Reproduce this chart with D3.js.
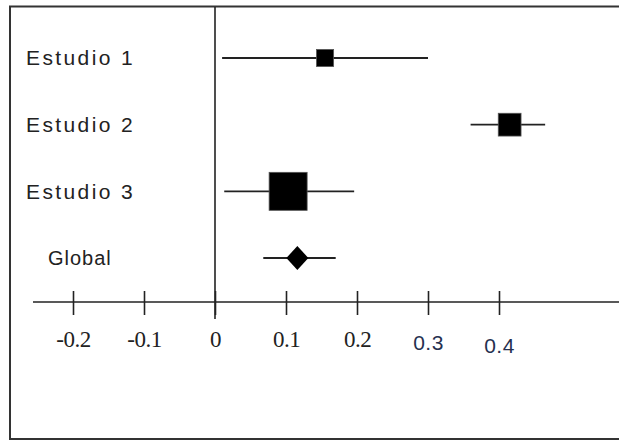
<!DOCTYPE html>
<html>
<head>
<meta charset="utf-8">
<script src="https://cdn.jsdelivr.net/npm/d3@7"></script>
<style>
  body { margin: 0; background: #fff; }
</style>
</head>
<body>
<div id="chart"></div>
<script>
// forest plot data
var studies   = ["Estudio 1", "Estudio 2", "Estudio 3", "Global"];
var estimates = [0.155, 0.415, 0.103, 0.116];
var lower     = [0.010, 0.360, 0.013, 0.068];
var upper     = [0.300, 0.465, 0.196, 0.170];
var weights   = [13, 23, 64, 0];      // study weights (square area)
var tickValues = [-0.2, -0.1, 0, 0.1, 0.2, 0.3, 0.4];
var tickLabels = ["-0.2", "-0.1", "0", "0.1", "0.2", "0.3", "0.4"];

var W = 619, H = 441;
var axisY = 302;

var rows = studies.map(function(s, i) {
	return {name: s, est: estimates[i], lo: lower[i], hi: upper[i], w: weights[i]};
});

// scales
var x = d3.scaleLinear().domain([-0.2, 0.4]).range([73, 499]);
var y = d3.scalePoint().domain(studies).range([58, 258]);
var side = d3.scaleSqrt().domain([0, 64]).range([0, 38]);

var svg = d3.select("#chart").append("svg")
	.attr("width", W)
	.attr("height", H);

// frame (right edge is cut off in the original)
svg.append("rect")
	.attr("x", 10).attr("y", 6.5)
	.attr("width", W + 10).attr("height", 432.5)
	.attr("fill", "none")
	.attr("stroke", "#333")
	.attr("stroke-width", 2);

// horizontal axis line
svg.append("line")
	.attr("x1", 33).attr("x2", W)
	.attr("y1", axisY).attr("y2", axisY)
	.attr("stroke", "#222")
	.attr("stroke-width", 1.6);

// ticks + labels
var axis = svg.append("g")
	.attr("transform", "translate(0," + axisY + ")")
	.call(d3.axisBottom(x).tickValues(tickValues)
		.tickFormat(function(d, i) { return tickLabels[i]; }));

axis.select(".domain").remove();
axis.selectAll(".tick line")
	.attr("y1", -11).attr("y2", 13)
	.attr("stroke", "#222")
	.attr("stroke-width", 1.6);

axis.selectAll(".tick text")
	.attr("dy", 0)
	.attr("y", function(d) { return d >= 0.3 ? (d > 0.35 ? 51 : 48) : 45; })
	.attr("fill", function(d) { return d >= 0.3 ? "#26304f" : "#222"; })
	.style("font-family", function(d) {
		return d >= 0.3 ? "'Liberation Sans Narrow', 'Liberation Sans', sans-serif"
			: "'Liberation Serif', 'DejaVu Serif', serif";
	})
	.style("font-size", function(d) { return d >= 0.3 ? "21px" : "23px"; })
	.style("letter-spacing", function(d) { return d >= 0.3 ? "0.5px" : "-0.5px"; });

// vertical line at zero
svg.append("line")
	.attr("x1", x(0)).attr("x2", x(0))
	.attr("y1", 7).attr("y2", 319)
	.attr("stroke", "#222")
	.attr("stroke-width", 1.6);

// confidence intervals
svg.selectAll(".ci")
	.data(rows)
	.enter().append("line")
	.attr("class", "ci")
	.attr("x1", function(d) { return x(d.lo); })
	.attr("x2", function(d) { return x(d.hi); })
	.attr("y1", function(d) { return y(d.name); })
	.attr("y2", function(d) { return y(d.name); })
	.attr("stroke", "#222")
	.attr("stroke-width", 1.8);

// study squares
var studyRows = rows.filter(function(d) { return d.name != "Global"; });
svg.selectAll(".sq")
	.data(studyRows)
	.enter().append("rect")
	.attr("class", "sq")
	.attr("x", function(d) { return x(d.est) - side(d.w) / 2; })
	.attr("y", function(d) { return y(d.name) - side(d.w) / 2; })
	.attr("width", function(d) { return side(d.w); })
	.attr("height", function(d) { return side(d.w); })
	.attr("fill", "#000")
	.attr("stroke", "#555")
	.attr("stroke-width", 0.8);

// pooled estimate diamond
var g = rows.filter(function(d) { return d.name == "Global"; })[0];
svg.append("path")
	.attr("d", "M" + (x(g.est) - 11) + "," + y(g.name)
		+ "L" + x(g.est) + "," + (y(g.name) - 12)
		+ "L" + (x(g.est) + 11) + "," + y(g.name)
		+ "L" + x(g.est) + "," + (y(g.name) + 12) + "Z")
	.attr("fill", "#000");

// row labels
svg.selectAll(".lab")
	.data(rows)
	.enter().append("text")
	.attr("class", "lab")
	.attr("x", function(d) { return d.name == "Global" ? 48 : 26; })
	.attr("y", function(d) { return y(d.name); })
	.attr("dy", "0.35em")
	.attr("fill", "#222")
	.style("font-family", "'Liberation Sans', Arial, sans-serif")
	.style("font-size", function(d) { return d.name == "Global" ? "20px" : "21px"; })
	.style("letter-spacing", function(d) { return d.name == "Global" ? "1px" : "2.4px"; })
	.text(function(d) { return d.name; });
</script>
</body>
</html>
